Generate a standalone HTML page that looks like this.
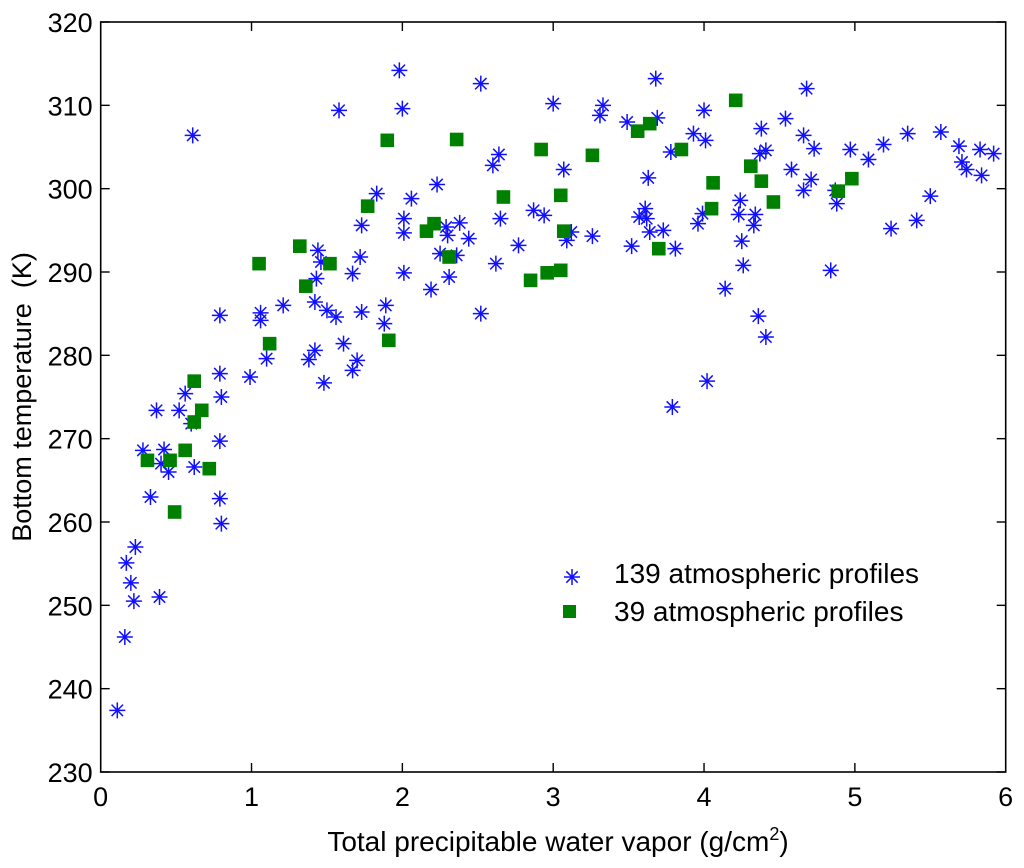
<!DOCTYPE html>
<html><head><meta charset="utf-8"><style>
html,body{margin:0;padding:0;background:#fff;}
svg text{font-family:"Liberation Sans",Arial,sans-serif;fill:#000;}
</style></head><body>
<svg id="chart" width="1024" height="863" viewBox="0 0 1024 863" xmlns="http://www.w3.org/2000/svg">
<rect x="0" y="0" width="1024" height="863" fill="#fff"/>
<g id="ticks"></g>
<g id="marks"></g>
<rect x="100.7" y="22" width="905" height="750" fill="none" stroke="#000" stroke-width="1.6"/>
<text x="558" y="851" font-size="28" text-anchor="middle">Total precipitable water vapor (g/cm<tspan dy="-11" font-size="18">2</tspan><tspan dy="11">)</tspan></text>
<text transform="translate(31,397) rotate(-90)" font-size="27" text-anchor="middle" xml:space="preserve">Bottom temperature  (K)</text>
<g>
<g id="legStar"></g>
<text x="614" y="583" font-size="28">139 atmospheric profiles</text>
<rect x="563" y="605" width="13" height="13" fill="#008000"/>
<text x="614" y="621" font-size="28">39 atmospheric profiles</text>
</g>
</svg>
<script>
const xTicks=[0,1,2,3,4,5,6];
const yTicks=[230,240,250,260,270,280,290,300,310,320];
const starX=[0.61,1.58,1.98,2.00,1.83,2.06,2.23,1.73,2.01,2.01,2.29,2.30,2.38,1.44,1.46,1.72,1.67,1.43,2.01,2.25,2.19,2.31,2.36,0.79,1.06,1.06,1.21,1.42,1.50,1.56,1.73,1.89,1.88,1.61,1.42,1.38,1.10,0.79,0.99,1.48,1.70,1.67,0.56,0.80,0.37,0.52,0.60,0.79,0.28,0.42,0.40,0.45,0.62,0.33,0.79,0.80,0.23,0.17,0.20,0.22,0.39,0.16,0.11,
2.52,3.00,3.33,3.31,3.68,3.49,3.69,4.00,3.93,4.01,3.78,2.64,2.60,3.07,3.63,2.44,2.65,2.87,2.94,2.77,2.62,3.12,3.09,3.26,3.52,3.61,3.57,3.62,3.64,3.73,3.81,3.99,3.96,4.14,2.52,4.02,3.79,
4.68,4.54,4.38,4.66,4.73,4.37,4.41,4.58,4.97,5.09,5.19,5.35,5.57,5.69,5.83,5.92,5.71,5.74,5.84,4.71,4.66,4.88,4.87,5.50,5.41,5.24,4.24,4.23,4.34,4.33,4.25,4.26,4.84,4.36,4.41];
const starT=[306.4,309.4,314.2,309.6,299.4,298.8,300.5,295.6,296.4,294.7,295.4,294.4,295.9,292.6,291.2,291.8,289.8,289.2,289.9,292.2,287.9,289.4,292.0,284.8,285.1,284.2,286.0,286.4,285.4,284.6,285.2,286.0,283.8,281.4,280.6,279.5,279.6,277.8,277.4,276.7,279.4,278.2,275.4,275.0,273.4,273.4,271.8,269.7,268.6,268.7,267.0,266.0,266.6,263.0,262.8,259.8,257.0,255.1,252.7,250.5,251.0,246.2,237.4,
312.6,310.2,310.0,308.8,313.2,308.0,308.5,309.4,306.6,305.8,304.4,304.1,302.8,302.3,301.3,294.0,296.4,297.4,296.8,293.2,291.0,294.8,293.8,294.3,293.1,297.6,296.6,296.4,294.8,295.0,292.8,297.0,295.8,288.0,285.0,276.9,273.8,
312.0,308.4,307.2,306.4,304.8,304.2,304.6,302.3,304.7,303.5,305.3,306.6,306.8,305.1,304.7,304.2,303.2,302.3,301.6,301.1,299.8,298.2,299.8,299.1,296.2,295.2,298.6,296.9,296.9,295.6,293.7,290.8,290.2,284.7,282.2];
const sqX=[1.90,2.36,1.77,1.32,1.05,1.52,1.36,2.16,2.21,2.31,1.12,1.91,0.62,0.31,0.46,0.56,0.62,0.67,0.72,0.49,2.92,3.26,3.56,3.64,3.85,4.21,4.06,4.05,2.67,3.05,3.07,3.70,2.85,2.96,3.05,4.31,4.38,4.46,4.89,4.98];
const sqT=[305.8,305.9,297.9,293.1,291.0,291.0,288.3,294.9,295.8,291.8,281.4,281.8,276.9,267.4,267.4,268.6,272.0,273.4,266.4,261.2,304.7,304.0,306.9,307.8,304.7,310.6,300.7,297.6,299.0,299.2,294.9,292.8,289.0,289.9,290.2,302.7,300.9,298.4,299.7,301.2];

const L=100.7,R=1005.7,T=22,B=772;
function sx(v){return L+(v-0)/(6-0)*(R-L);}
function sy(v){return B-(v-230)/(320-230)*(B-T);}
const NS='http://www.w3.org/2000/svg';
function mk(tag,attrs,parent){const e=document.createElementNS(NS,tag);for(const k in attrs)e.setAttribute(k,attrs[k]);parent.appendChild(e);return e;}
const tg=document.getElementById('ticks');
xTicks.forEach(v=>{
  const x=sx(v);
  const t1=mk('line',{x1:x,y1:B,x2:x,y2:B-9,stroke:'#000','stroke-width':1.4},tg);
  
  
  const t2=mk('line',{x1:x,y1:T,x2:x,y2:T+9,stroke:'#000','stroke-width':1.4},tg);
  
  
  const lb=mk('text',{x:x,y:806,'font-size':27,'text-anchor':'middle'},tg);
  lb.textContent=v;
  
  
});
yTicks.forEach(v=>{
  const y=sy(v);
  const t1=mk('line',{x1:L,y1:y,x2:L+9,y2:y,stroke:'#000','stroke-width':1.4},tg);
  
  
  const t2=mk('line',{x1:R,y1:y,x2:R-9,y2:y,stroke:'#000','stroke-width':1.4},tg);
  
  
  const lb=mk('text',{x:L-8,y:y+10,'font-size':27,'text-anchor':'end'},tg);
  lb.textContent=v;
  
  
});
function star(cx,cy,parent){
  const r=8,d=5.7;
  const p=`M${cx-r},${cy}H${cx+r}M${cx},${cy-r}V${cy+r}M${cx-d},${cy-d}L${cx+d},${cy+d}M${cx-d},${cy+d}L${cx+d},${cy-d}`;
  return mk('path',{d:p,stroke:'#1010ff','stroke-width':1.5,fill:'none'},parent);
}
const mg=document.getElementById('marks');
starX.forEach((v,i)=>{
  const s=star(sx(v),sy(starT[i]),mg);
  
  
});
sqX.forEach((v,i)=>{
  const q=mk('rect',{x:sx(v)-6.8,y:sy(sqT[i])-6.8,width:13.6,height:13.6,fill:'#008000'},mg);
  
  
});
const ls=star(572,577,document.getElementById('legStar'));


</script>
</body></html>
